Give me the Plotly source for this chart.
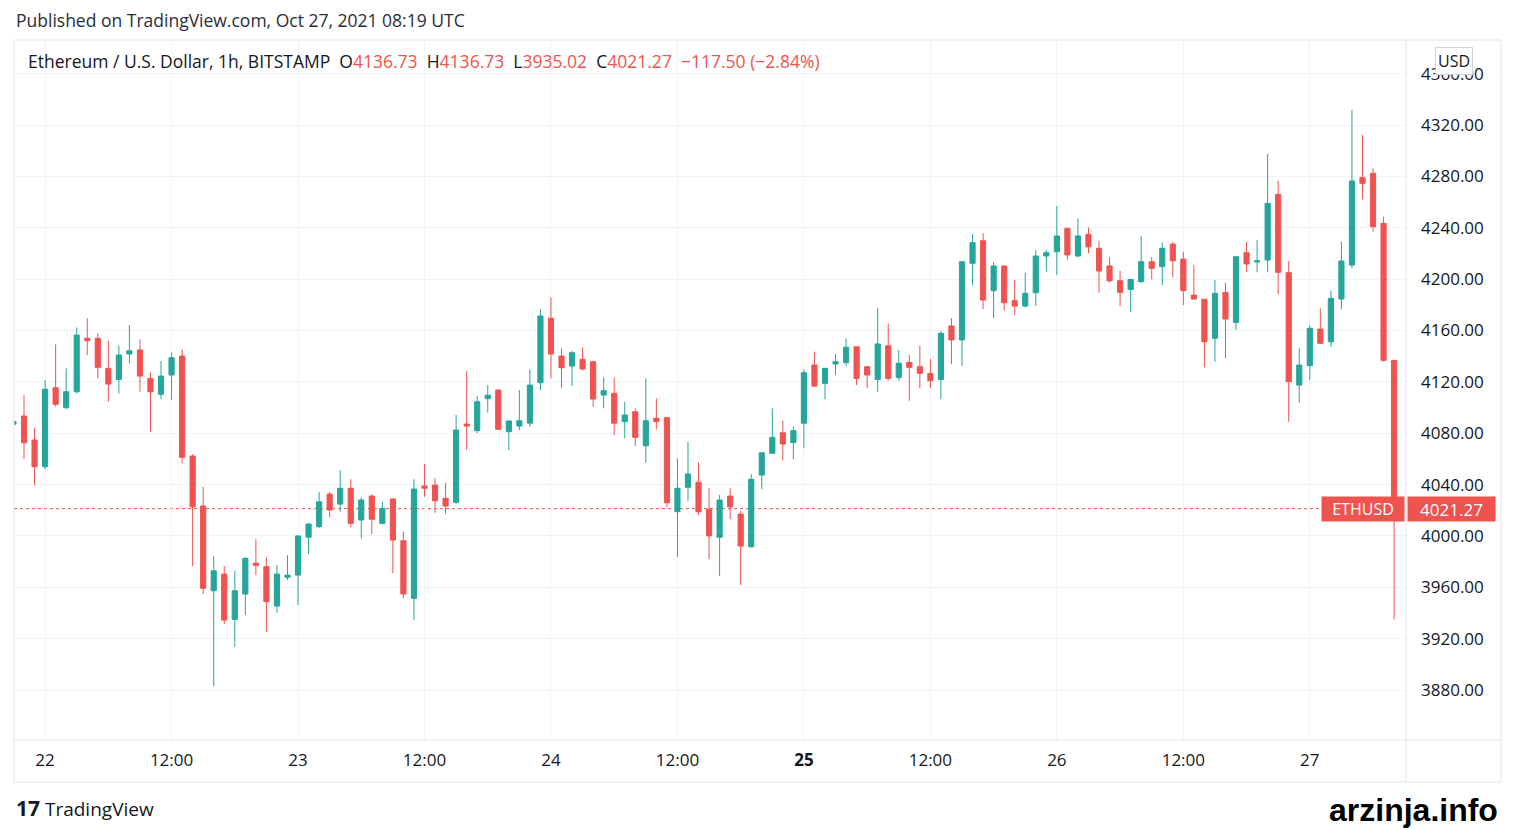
import plotly.graph_objects as go
import pandas as pd

# ETH/USD 1h candles, Bitstamp, Oct 21 21:00 -> Oct 27 08:00 UTC
times = pd.date_range("2021-10-21 21:00", periods=132, freq="h")

opens = [
    4087.0, 4093.4, 4074.7, 4053.9, 4115.4, 4099.8, 4112.3, 4153.9, 4153.9, 4130.5,
    4121.9, 4141.7, 4144.8, 4122.7, 4110.3, 4125.3, 4140.1, 4062.2, 4023.3, 3957.3,
    3970.3, 3935.0, 3954.8, 3978.7, 3976.1, 3945.4, 3967.8, 3969.5, 3999.0, 4007.2,
    4032.6, 4024.8, 4037.1, 4012.4, 4031.1, 4009.8, 4028.8, 3996.3, 3951.4, 4038.9,
    4039.6, 4029.3, 4026.2, 4087.1, 4082.0, 4106.9, 4113.6, 4081.2, 4085.6, 4087.8,
    4119.3, 4169.5, 4140.1, 4132.3, 4137.5, 4135.7, 4109.7, 4111.0, 4089.0, 4096.7,
    4070.2, 4091.7, 4092.1, 4018.9, 4037.9, 4041.8, 4020.7, 3999.0, 4031.1, 4017.0,
    3991.6, 4047.4, 4064.4, 4080.4, 4072.7, 4087.8, 4133.1, 4118.8, 4133.9, 4134.9,
    4147.3, 4131.8, 4121.9, 4148.1, 4123.3, 4135.2, 4131.8, 4126.6, 4121.9, 4163.5,
    4152.6, 4212.3, 4229.9, 4191.0, 4210.2, 4183.2, 4179.0, 4189.4, 4218.0, 4221.3,
    4239.6, 4218.0, 4234.9, 4224.0, 4210.2, 4198.7, 4192.0, 4198.0, 4213.5, 4209.7,
    4227.3, 4215.6, 4187.6, 4184.3, 4153.9, 4189.7, 4166.3, 4220.6, 4213.3, 4214.9,
    4266.0, 4205.0, 4117.5, 4132.6, 4161.1, 4151.2, 4184.5, 4211.0, 4279.0, 4282.4,
    4243.4, 4136.73,
]
highs = [
    4119.0, 4109.7, 4084.3, 4121.4, 4149.2, 4130.5, 4162.4, 4169.5, 4157.8, 4152.0,
    4148.1, 4164.2, 4153.1, 4127.1, 4136.4, 4142.7, 4145.3, 4063.8, 4038.3, 3984.3,
    3976.6, 3972.9, 3983.3, 3997.4, 3983.3, 3977.3, 3985.0, 4000.5, 4010.0, 4034.4,
    4034.4, 4051.3, 4044.1, 4030.1, 4032.6, 4026.6, 4029.0, 4003.3, 4044.1, 4056.0,
    4044.9, 4041.4, 4094.2, 4128.4, 4109.0, 4117.5, 4114.0, 4090.0, 4113.6, 4129.7,
    4176.5, 4185.8, 4146.1, 4144.2, 4146.9, 4136.4, 4123.5, 4123.5, 4104.5, 4099.4,
    4122.7, 4107.1, 4092.5, 4060.4, 4073.4, 4057.3, 4037.1, 4031.9, 4037.1, 4019.6,
    4048.2, 4065.0, 4099.4, 4089.7, 4085.1, 4129.7, 4143.5, 4131.0, 4141.7, 4153.9,
    4147.5, 4132.0, 4177.3, 4165.6, 4144.8, 4140.9, 4148.1, 4137.8, 4159.6, 4169.5,
    4214.0, 4234.9, 4235.7, 4213.5, 4210.5, 4199.3, 4205.0, 4222.7, 4222.7, 4256.9,
    4240.0, 4247.3, 4240.3, 4229.9, 4217.0, 4206.5, 4200.0, 4233.6, 4217.0, 4228.3,
    4229.1, 4221.3, 4211.0, 4184.5, 4199.3, 4197.2, 4217.5, 4229.1, 4230.4, 4297.4,
    4276.4, 4214.1, 4146.1, 4164.2, 4177.3, 4191.0, 4229.1, 4331.7, 4312.2, 4286.3,
    4248.6, 4136.73,
]
lows = [
    4072.0, 4059.9, 4039.6, 4052.0, 4100.6, 4099.0, 4111.0, 4140.9, 4122.7, 4104.5,
    4111.0, 4134.4, 4112.3, 4081.2, 4106.4, 4106.0, 4056.5, 3976.6, 3954.8, 3883.1,
    3931.4, 3913.7, 3938.4, 3969.5, 3925.4, 3940.2, 3965.6, 3946.2, 3985.9, 4006.0,
    4014.5, 4018.9, 4006.7, 3998.1, 4001.5, 4009.0, 3970.9, 3951.4, 3934.5, 4030.5,
    4018.1, 4017.0, 4025.0, 4066.9, 4080.0, 4096.0, 4082.5, 4066.9, 4082.5, 4085.0,
    4113.6, 4122.7, 4115.0, 4116.7, 4129.0, 4100.6, 4099.4, 4078.6, 4076.0, 4070.0,
    4057.0, 4083.0, 4022.7, 3983.8, 4027.4, 4016.3, 3981.8, 3968.8, 4013.0, 3961.8,
    3991.0, 4036.4, 4063.8, 4058.7, 4059.7, 4068.3, 4116.0, 4106.4, 4125.3, 4132.3,
    4117.5, 4115.0, 4112.3, 4120.9, 4121.0, 4105.3, 4115.0, 4115.0, 4106.4, 4133.9,
    4132.3, 4195.4, 4176.5, 4169.5, 4175.4, 4172.0, 4178.0, 4179.0, 4205.8, 4203.2,
    4214.9, 4217.0, 4220.1, 4189.4, 4197.2, 4179.0, 4174.6, 4197.0, 4199.8, 4195.4,
    4201.4, 4179.8, 4184.0, 4131.3, 4135.7, 4138.3, 4160.4, 4205.3, 4205.3, 4205.3,
    4188.2, 4088.9, 4103.7, 4121.4, 4149.5, 4147.3, 4176.7, 4208.4, 4262.1, 4236.9,
    4135.7, 3935.02,
]
closes = [
    4089.0, 4072.6, 4053.9, 4114.2, 4102.5, 4112.3, 4156.4, 4152.0, 4131.3, 4118.3,
    4140.9, 4144.2, 4124.5, 4112.3, 4124.5, 4138.8, 4061.2, 4022.7, 3959.2, 3972.9,
    3934.5, 3957.3, 3982.6, 3977.1, 3948.8, 3970.3, 3969.5, 4000.0, 4009.3, 4026.6,
    4020.2, 4037.1, 4009.8, 4028.0, 4013.0, 4021.5, 3996.8, 3954.8, 4036.5, 4037.1,
    4027.4, 4023.3, 4082.5, 4085.6, 4104.5, 4109.6, 4083.0, 4089.5, 4089.7, 4117.5,
    4171.3, 4141.7, 4131.0, 4142.7, 4130.0, 4106.6, 4113.1, 4087.8, 4094.2, 4076.8,
    4089.7, 4089.0, 4025.9, 4037.1, 4048.2, 4018.9, 4000.0, 4028.0, 4022.7, 3992.1,
    4044.1, 4064.8, 4076.8, 4071.6, 4082.0, 4127.1, 4116.7, 4130.5, 4135.7, 4146.9,
    4122.7, 4125.3, 4149.5, 4122.7, 4134.5, 4131.3, 4126.6, 4120.9, 4157.8, 4152.6,
    4213.5, 4228.3, 4183.7, 4210.2, 4181.6, 4179.0, 4188.9, 4218.0, 4220.6, 4233.6,
    4218.8, 4233.6, 4225.2, 4206.3, 4198.7, 4189.7, 4199.8, 4213.5, 4208.4, 4224.0,
    4214.3, 4191.0, 4184.5, 4151.2, 4188.9, 4168.9, 4217.4, 4211.8, 4214.3, 4259.0,
    4205.3, 4120.1, 4133.1, 4161.7, 4150.0, 4185.0, 4214.1, 4276.4, 4274.6, 4240.8,
    4136.73, 4021.27,
]

last_price = 4021.27
tick_times = pd.date_range("2021-10-22 00:00", periods=11, freq="12h")
tick_text = ["22", "12:00", "23", "12:00", "24", "12:00", "<b>25</b>",
             "12:00", "26", "12:00", "27"]

UP = "#26a69a"
DOWN = "#ef5350"
TXT = "#131722"
GRID = "#f0f3fa"
BORDER = "#e0e3eb"
FONT = "Open Sans"

fig = go.Figure(go.Candlestick(
    x=times, open=opens, high=highs, low=lows, close=closes,
    increasing=dict(line=dict(color=UP, width=1), fillcolor=UP),
    decreasing=dict(line=dict(color=DOWN, width=1), fillcolor=DOWN),
    whiskerwidth=0, showlegend=False, hoverinfo="skip",
))

# page body has an 8px margin, so the figure is 8px smaller each way
fig.update_layout(
    width=1505, height=822,
    margin=dict(l=6, r=108, t=32, b=90),
    paper_bgcolor="white", plot_bgcolor="white",
    font=dict(family=FONT, color=TXT, size=17),
    showlegend=False, hovermode=False,
    xaxis=dict(
        type="date", rangeslider=dict(visible=False),
        range=["2021-10-21 21:03", "2021-10-27 09:02"],
        tickvals=tick_times, ticktext=tick_text,
        showgrid=True, gridcolor=GRID, zeroline=False, showline=False,
        ticks="", ticklabelstandoff=8, tickfont=dict(size=17, color=TXT),
        fixedrange=True,
    ),
    yaxis=dict(
        side="right", range=[3841.1, 4386.2], dtick=40, tick0=0,
        tickformat=".2f", showgrid=True, gridcolor=GRID,
        zeroline=False, showline=False, ticks="", ticklabelstandoff=15,
        tickfont=dict(size=17, color=TXT), fixedrange=True,
    ),
)

# frame and separators of the chart panel
fig.add_shape(type="rect", xref="paper", yref="paper", x0=0, x1=1.069, y0=-0.06, y1=1,
              line=dict(color=BORDER, width=1), layer="above")
fig.add_shape(type="line", xref="paper", yref="paper", x0=1.0007, x1=1.0007, y0=-0.06, y1=1,
              line=dict(color=BORDER, width=1), layer="above")
fig.add_shape(type="line", xref="paper", yref="paper", x0=0, x1=1.069, y0=0, y1=0,
              line=dict(color=BORDER, width=1), layer="above")

# last price line
fig.add_shape(type="line", xref="paper", yref="y", x0=0, x1=0.941, y0=last_price, y1=last_price,
              line=dict(color=DOWN, width=1, dash="dot"), layer="below")

red = lambda s: f"<span style='color:{DOWN}'>{s}</span>"
sp = "\u00a0\u00a0"
legend_text = ("Ethereum / U.S. Dollar, 1h, BITSTAMP" + sp
               + "O" + red("4136.73") + sp + "H" + red("4136.73") + sp
               + "L" + red("3935.02") + sp + "C" + red("4021.27") + sp
               + red("\u2212117.50 (\u22122.84%)"))

fig.add_annotation(xref="paper", yref="paper", x=0, y=1.0286, xanchor="left", yanchor="middle",
                   text="Published on TradingView.com, Oct 27, 2021 08:19 UTC",
                   showarrow=False, font=dict(size=17.5, color="#2a2e39"))
fig.add_annotation(xref="paper", yref="paper", x=0.0086, y=0.97, xanchor="left", yanchor="middle",
                   text=legend_text, showarrow=False, font=dict(size=17.5, color=TXT))

fig.add_annotation(xref="paper", yref="y", x=1, y=last_price, xanchor="right", yanchor="middle",
                   text="ETHUSD", showarrow=False, bgcolor=DOWN, width=78, height=20, borderpad=2,
                   font=dict(size=16, color="white"))
fig.add_annotation(xref="paper", yref="y", x=1.0015, y=last_price, xanchor="left", yanchor="middle",
                   text=f"{last_price:.2f}", showarrow=False, bgcolor=DOWN, width=83, height=20,
                   borderpad=2, font=dict(size=17, color="white"))
fig.add_annotation(xref="paper", yref="paper", x=1.0352, y=0.97, xanchor="center", yanchor="middle",
                   text="USD", showarrow=False, bgcolor="white", bordercolor="#d1d4dc",
                   borderwidth=1, borderpad=2, font=dict(size=16, color=TXT))

fig.add_annotation(xref="paper", yref="paper", x=0, y=-0.0971, xanchor="left", yanchor="middle",
                   text="<b><span style='font-size:21px'>17</span></b>\u00a0TradingView",
                   showarrow=False, font=dict(size=19, color="#131722"))
fig.add_annotation(xref="paper", yref="paper", x=1.0683, y=-0.1, xanchor="right", yanchor="middle",
                   text="<b>arzinja.info</b>", showarrow=False,
                   font=dict(family="Liberation Sans", size=32, color="black"))

fig.write_html("out.html", config=dict(displayModeBar=False))
